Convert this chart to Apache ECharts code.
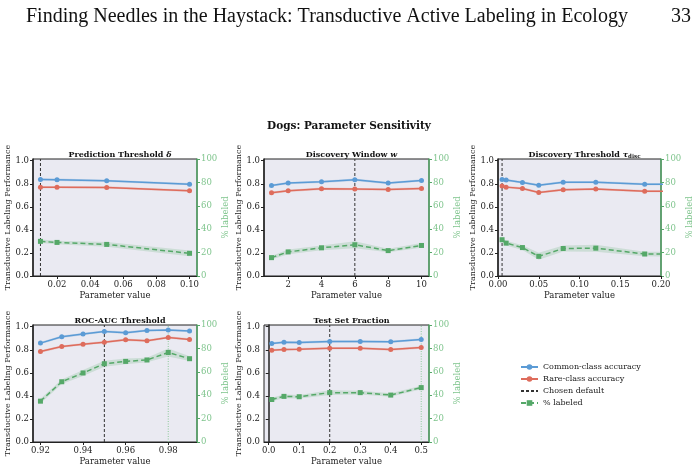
<!DOCTYPE html>
<html lang="en">
<head>
<meta charset="UTF-8">
<title>Dogs: Parameter Sensitivity</title>
<script src="https://cdn.jsdelivr.net/npm/echarts@6/dist/echarts.min.js"></script>
<style>
  html, body { margin: 0; padding: 0; background: #fff; }
  #main { width: 699px; height: 469px; }
</style>
</head>
<body>
<div id="main"></div>
<script>
// ---- data ----
// Prediction Threshold
var predX        = [0.01, 0.02, 0.05, 0.10];
var predCommon   = [0.838, 0.835, 0.826, 0.797];
var predRare     = [0.771, 0.771, 0.768, 0.739];
var predLabeled  = [29.6, 28.7, 27.0, 19.4];
var predLabErr   = [1.5, 1.5, 2.0, 2.5];
var predDefault  = 0.01;
var predTicks    = [0.02, 0.04, 0.06, 0.08, 0.10];

// Discovery Window
var winX         = [1, 2, 4, 6, 8, 10];
var winCommon    = [0.786, 0.806, 0.817, 0.835, 0.806, 0.829];
var winRare      = [0.722, 0.739, 0.757, 0.754, 0.751, 0.759];
var winLabeled   = [15.7, 20.6, 24.1, 26.7, 21.7, 26.1];
var winLabErr    = [1.5, 2.0, 2.0, 3.0, 1.5, 2.0];
var winDefault   = 6;
var winTicks     = [2, 4, 6, 8, 10];

// Discovery Threshold (last point lies beyond the x-limit)
var discX        = [0.005, 0.01, 0.03, 0.05, 0.08, 0.12, 0.18, 0.25];
var discCommon   = [0.838, 0.832, 0.812, 0.788, 0.814, 0.814, 0.797, 0.797];
var discRare     = [0.780, 0.771, 0.759, 0.725, 0.748, 0.754, 0.736, 0.736];
var discLabeled  = [31.0, 28.1, 24.3, 16.8, 23.5, 23.8, 18.8, 18.5];
var discLabErr   = [2.0, 2.0, 2.0, 3.0, 2.5, 3.0, 2.0, 2.0];
var discDefault  = 0.005;
var discTicks    = [0, 0.05, 0.10, 0.15, 0.20];

// ROC-AUC Threshold
var aucX         = [0.92, 0.93, 0.94, 0.95, 0.96, 0.97, 0.98, 0.99];
var aucCommon    = [0.858, 0.913, 0.936, 0.959, 0.948, 0.968, 0.971, 0.962];
var aucRare      = [0.785, 0.828, 0.849, 0.866, 0.887, 0.878, 0.907, 0.890];
var aucLabeled   = [34.9, 51.5, 59.0, 66.9, 68.9, 70.1, 76.5, 71.2];
var aucLabErr    = [2.0, 2.0, 2.5, 2.5, 2.5, 2.0, 3.5, 2.0];
var aucDefault   = 0.95;
var aucBest      = 0.98;
var aucTicks     = [0.92, 0.94, 0.96, 0.98];

// Test Set Fraction
var testX        = [0.01, 0.05, 0.1, 0.2, 0.3, 0.4, 0.5];
var testCommon   = [0.855, 0.866, 0.863, 0.872, 0.872, 0.869, 0.890];
var testRare     = [0.797, 0.802, 0.805, 0.814, 0.814, 0.802, 0.820];
var testLabeled  = [36.3, 39.0, 38.7, 42.2, 42.2, 40.1, 46.5];
var testLabErr   = [1.5, 1.5, 1.5, 2.0, 1.5, 1.5, 1.5];
var testDefault  = 0.2;
var testBest     = 0.5;
var testTicks    = [0, 0.1, 0.2, 0.3, 0.4, 0.5];

var accErr = 0.01;   // half-width of the shaded band on the accuracy lines
var accTicks = [0, 0.2, 0.4, 0.6, 0.8, 1.0];
var labTicks = [0, 20, 40, 60, 80, 100];

// ---- styling ----
var FONT = 'DejaVu Serif';
var BLUE = '#5b9bd5', RED = '#de6c5c', GREEN = '#55a868', LIGHTGREEN = '#7ec48c';

var panels = [
    {title: '{b|Prediction Threshold }{i|δ}', x: predX, common: predCommon, rare: predRare,
     lab: predLabeled, labErr: predLabErr, def: predDefault, best: null, ticks: predTicks, dec: 2,
     xmin: 0.0055, xmax: 0.1045, left: 33, top: 159, width: 164},
    {title: '{b|Discovery Window }{i|w}', x: winX, common: winCommon, rare: winRare,
     lab: winLabeled, labErr: winLabErr, def: winDefault, best: null, ticks: winTicks, dec: 0,
     xmin: 0.55, xmax: 10.45, left: 264, top: 159, width: 165},
    {title: '{b|Discovery Threshold }{i|τ}{s|disc}', x: discX, common: discCommon, rare: discRare,
     lab: discLabeled, labErr: discLabErr, def: discDefault, best: null, ticks: discTicks, dec: 2,
     xmin: 0, xmax: 0.2, left: 498, top: 159, width: 163},
    {title: '{b|ROC-AUC Threshold}', x: aucX, common: aucCommon, rare: aucRare,
     lab: aucLabeled, labErr: aucLabErr, def: aucDefault, best: aucBest, ticks: aucTicks, dec: 2,
     xmin: 0.9165, xmax: 0.9935, left: 33, top: 325, width: 164},
    {title: '{b|Test Set Fraction}', x: testX, common: testCommon, rare: testRare,
     lab: testLabeled, labErr: testLabErr, def: testDefault, best: testBest, ticks: testTicks, dec: 1,
     xmin: -0.0155, xmax: 0.5255, left: 264, top: 325, width: 165}
];
var PH = 117;   // plot height
var YMAX = 1.015;

var grids = [], xAxes = [], yAxes = [], series = [], titles = [];

function pairs(xs, ys) {
    return xs.map(function (x, i) { return [x, ys[i]]; });
}

// shaded band drawn as one polygon: upper edge forward, lower edge back
function band(gi, yIdx, xs, ys, errs, color) {
    var rows = [];
    for (var i = 0; i < xs.length; i++) {
        var e = (typeof errs === 'number') ? errs : errs[i];
        rows.push([xs[i], ys[i] - e, ys[i] + e]);
    }
    series.push({
        type: 'custom', xAxisIndex: gi, yAxisIndex: yIdx, silent: true, clip: true, z: 1,
        data: rows,
        encode: {x: 0, y: [1, 2]},
        renderItem: function (params, api) {
            if (params.dataIndex !== 0) return null;
            var pts = [];
            rows.forEach(function (r) { pts.push(api.coord([r[0], r[2]])); });
            for (var k = rows.length - 1; k >= 0; k--) pts.push(api.coord([rows[k][0], rows[k][1]]));
            return {type: 'polygon', shape: {points: pts}, style: {fill: color}};
        }
    });
}

panels.forEach(function (p, gi) {
    grids.push({left: p.left, top: p.top, width: p.width, height: PH,
                show: true, backgroundColor: '#eaeaf2', borderColor: '#222', borderWidth: 1});
    titles.push({text: p.title, left: p.left + p.width / 2, top: p.top - 15, textAlign: 'center',
                 textStyle: {rich: {
                     b: {fontFamily: FONT, fontWeight: 'bold', fontSize: 8, lineHeight: 11, color: '#111'},
                     i: {fontFamily: FONT, fontStyle: 'italic', fontSize: 8, lineHeight: 11, color: '#111'},
                     s: {fontFamily: FONT, fontSize: 5.5, lineHeight: 6, verticalAlign: 'bottom', color: '#111'}
                 }}});
    xAxes.push({type: 'value', gridIndex: gi, min: p.xmin, max: p.xmax,
                name: 'Parameter value', nameLocation: 'middle', nameGap: 15,
                nameTextStyle: {fontFamily: FONT, fontSize: 8.5, color: '#222'},
                axisLine: {show: true, onZero: false, lineStyle: {color: '#222', width: 1.2}},
                axisTick: {show: true, customValues: p.ticks, length: 3, lineStyle: {color: '#222'}},
                axisLabel: {customValues: p.ticks, fontFamily: FONT, fontSize: 8.5, color: '#222', margin: 4,
                            formatter: (function (d) { return function (v) { return v.toFixed(d); }; })(p.dec)},
                splitLine: {show: false}});
    yAxes.push({type: 'value', gridIndex: gi, min: 0, max: YMAX, position: 'left',
                name: 'Transductive Labeling Performance', nameLocation: 'middle', nameGap: 19,
                nameTextStyle: {fontFamily: FONT, fontSize: 8, color: '#222'},
                axisLine: {show: true, lineStyle: {color: '#222', width: 1.5}},
                axisTick: {show: true, customValues: accTicks, length: 3, lineStyle: {color: '#222'}},
                axisLabel: {customValues: accTicks, fontFamily: FONT, fontSize: 8.5, color: '#222', margin: 4,
                            formatter: function (v) { return v.toFixed(1); }},
                splitLine: {show: false}});
    yAxes.push({type: 'value', gridIndex: gi, min: 0, max: 100, position: 'right',
                name: '% labeled', nameLocation: 'middle', nameGap: 21, nameRotate: 90,
                nameTextStyle: {fontFamily: FONT, fontSize: 8.5, color: LIGHTGREEN},
                axisLine: {show: true, lineStyle: {color: GREEN, width: 1.5}},
                axisTick: {show: true, customValues: labTicks, length: 3, lineStyle: {color: GREEN}},
                axisLabel: {customValues: labTicks, fontFamily: FONT, fontSize: 8.5, color: LIGHTGREEN, margin: 4},
                splitLine: {show: false}});

    var yl = 2 * gi, yr = 2 * gi + 1;
    band(gi, yl, p.x, p.common, accErr, 'rgba(91,155,213,0.25)');
    band(gi, yl, p.x, p.rare, accErr, 'rgba(222,108,92,0.25)');
    band(gi, yr, p.x, p.lab, p.labErr, 'rgba(85,168,104,0.2)');

    series.push({name: 'Common-class accuracy', type: 'line', xAxisIndex: gi, yAxisIndex: yl,
                 data: pairs(p.x, p.common), symbol: 'circle', symbolSize: 5, color: BLUE,
                 lineStyle: {width: 1.5, color: BLUE}, z: 5});
    series.push({name: 'Rare-class accuracy', type: 'line', xAxisIndex: gi, yAxisIndex: yl,
                 data: pairs(p.x, p.rare), symbol: 'circle', symbolSize: 5, color: RED,
                 lineStyle: {width: 1.5, color: RED}, z: 5});
    series.push({name: 'Chosen default', type: 'line', xAxisIndex: gi, yAxisIndex: yl,
                 data: [[p.def, 0], [p.def, YMAX]], symbol: 'none', color: '#333',
                 lineStyle: {width: 1, type: [3, 2], color: '#333'}, z: 4});
    if (p.best !== null) {
        series.push({type: 'line', xAxisIndex: gi, yAxisIndex: yl, silent: true,
                     data: [[p.best, 0], [p.best, YMAX]], symbol: 'none',
                     lineStyle: {width: 1, type: [1, 1.5], color: '#8cc999'}, z: 3});
    }
    series.push({name: '% labeled', type: 'line', xAxisIndex: gi, yAxisIndex: yr,
                 data: pairs(p.x, p.lab), symbol: 'rect', symbolSize: 5, color: GREEN,
                 lineStyle: {width: 1.5, type: [5, 3], color: GREEN}, z: 5});
});

titles.push({text: 'Finding Needles in the Haystack: Transductive Active Labeling in Ecology',
             left: 21, top: 2, textStyle: {fontFamily: 'Liberation Serif', fontWeight: 'normal', fontSize: 20, color: '#111'}});
titles.push({text: '33', left: 666, top: 2,
             textStyle: {fontFamily: 'Liberation Serif', fontWeight: 'normal', fontSize: 20, color: '#111'}});
titles.push({text: 'Dogs: Parameter Sensitivity', left: 344, top: 116, textAlign: 'center',
             textStyle: {fontFamily: FONT, fontWeight: 'bold', fontSize: 10.5, color: '#111'}});

var myChart = echarts.init(document.getElementById('main'));
myChart.setOption({
    animation: false,
    backgroundColor: '#fff',
    title: titles,
    legend: {
        data: ['Common-class accuracy', 'Rare-class accuracy',
               {name: 'Chosen default', itemStyle: {opacity: 0}}, '% labeled'],
        orient: 'vertical', left: 515, top: 358, itemWidth: 17, itemHeight: 7, itemGap: 4,
        textStyle: {fontFamily: FONT, fontSize: 8, color: '#222'}
    },
    grid: grids,
    xAxis: xAxes,
    yAxis: yAxes,
    series: series
});
</script>
</body>
</html>
